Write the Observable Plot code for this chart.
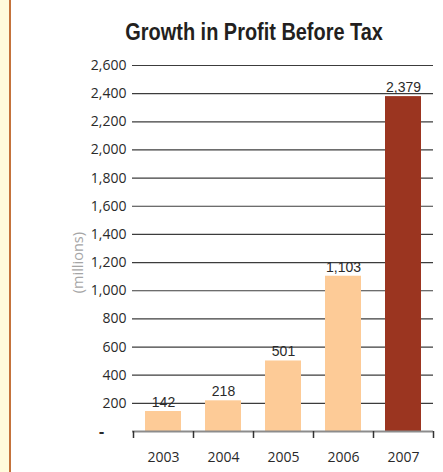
<!DOCTYPE html>
<html><head><meta charset="utf-8">
<script src="https://cdn.jsdelivr.net/npm/d3@7"></script>
<script src="https://cdn.jsdelivr.net/npm/@observablehq/plot@0.6"></script>
<style>
body{margin:0;background:#fff;width:443px;height:472px;position:relative;overflow:hidden}
#panel{position:absolute;left:0;top:0;width:9px;height:472px;background:#fffbdc;border-right:2px solid #c4733c;}
#title{height:55px;box-sizing:border-box;padding-top:20px;padding-left:65px;text-align:center;color:#231f20;white-space:nowrap}
#title span{display:inline-block;font-family:"Liberation Sans",Arial,sans-serif;font-weight:bold;font-size:24px;line-height:24px;transform:scaleX(0.83);transform-origin:center}
#chart svg{display:block}
</style></head><body>
<div id="panel"></div>
<div id="title"><span></span></div>
<div id="chart"></div>
<script>
const titleText = "Growth in Profit Before Tax";
const years = ["2003", "2004", "2005", "2006", "2007"];
const profits = [142, 218, 501, 1103, 2379];
const highlighted = [false, false, false, false, true];
const yTicks = [0, 200, 400, 600, 800, 1000, 1200, 1400, 1600, 1800, 2000, 2200, 2400, 2600];
const yLabel = "(millions)";
const yLabelAt = 1200;

const light = "#fdcb97", dark = "#9b3520";
const data = years.map((y, i) => ({year: y, value: profits[i], hi: highlighted[i]}));
const fmt = d3.format(",");

document.querySelector("#title span").textContent = titleText;

const chart = Plot.plot({
  width: 443,
  height: 417,
  marginTop: 10,
  marginBottom: 41,
  marginLeft: 132,
  marginRight: 10,
  style: {background: "transparent", color: "#2a2a2a"},
  x: {domain: years, paddingInner: 0.4, paddingOuter: 0.2},
  y: {domain: [0, 2600]},
  color: {type: "identity"},
  marks: [
    Plot.ruleY(yTicks.filter(d => d > 0), {stroke: "#3c3c3c", strokeWidth: 1.2}),
    Plot.barY(data, {x: "year", y: "value", fill: d => d.hi ? dark : light}),
    Plot.ruleY([0], {stroke: "#8c8c8c", strokeWidth: 2}),
    Plot.axisY({ticks: yTicks, tickSize: 0, tickPadding: 6, tickFormat: d => d === 0 ? "" : fmt(d), fontSize: 14, fontFamily: "Open Sans", fill: "#2a2a2a", label: null}),
    Plot.text([0], {y: d => d, text: () => "-", frameAnchor: "left", textAnchor: "middle", dx: -31, fontSize: 16, fontWeight: "bold", fill: "#2a2a2a"}),
    Plot.text([yLabel], {y: () => yLabelAt, text: d => d, frameAnchor: "left", textAnchor: "middle", dx: -54, rotate: -90, fontSize: 14.5, fontFamily: "Open Sans", fill: "#a5a5a5"}),
    Plot.axisX({tickSize: 0, tickPadding: 21, fontSize: 14, fontFamily: "Open Sans", fill: "#2a2a2a", label: null}),
    Plot.axisX({ticks: years, tickSize: 7, tickFormat: () => "", dx: -30, stroke: "#333", strokeWidth: 1.5, label: null}),
    Plot.axisX({ticks: ["2007"], tickSize: 7, tickFormat: () => "", dx: 30, stroke: "#333", strokeWidth: 1.5, label: null}),
    Plot.text(data, {x: "year", y: "value", text: d => fmt(d.value), dy: -9, fontSize: 14, fontFamily: "Liberation Sans", fill: "#2a2a2a"})
  ]
});
document.getElementById("chart").appendChild(chart);
</script>
</body></html>
